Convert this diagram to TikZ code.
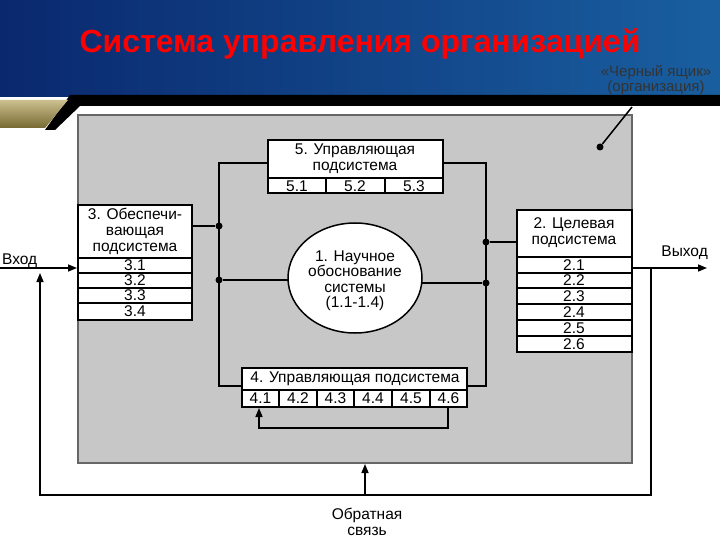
\documentclass[tikz,border=0pt]{standalone}
\usepackage{fontspec}
\setmainfont{Liberation Sans}
\usetikzlibrary{arrows.meta}
\definecolor{bgA}{RGB}{10,40,110}
\definecolor{bgB}{RGB}{25,95,160}
\definecolor{gold}{RGB}{170,150,70}
\begin{document}
\begin{tikzpicture}[x=1pt,y=-1pt,
  txt/.style={font=\fontsize{15.5}{16}\selectfont,align=center,inner sep=0},
  ln/.style={line width=1.5pt},
  arr/.style={ln,-{Triangle[length=9pt,width=7pt]}},
  dot/.style={circle,fill=black,inner sep=0,minimum size=7pt}]
\useasboundingbox (0,0) rectangle (720,540);
\fill[white] (0,0) rectangle (720,540);
\shade[left color=bgA,right color=bgB] (0,0) rectangle (720,97);
\fill[black] (70,95) -- (720,95) -- (720,106) -- (80,106) -- (55,130) -- (45,130) -- cycle;
\shade[top color=gold!60!white,bottom color=gold!70!black] (0,100) -- (68,100) -- (45,128) -- (0,128) -- cycle;
\node[font=\fontsize{32}{34}\selectfont\bfseries,text=red] (title) at (360,44) {Система управления организацией};
\node[font=\fontsize{15}{15.5}\selectfont,text=black!80,align=center] (bb) at (656,80) {«Черный ящик»\\(организация)};
% gray box
\draw[fill=black!22,draw=black!60,line width=1.5pt] (78,115) rectangle (632,463);
\coordinate (bbc) at (632,107);
\node[dot] (bbd) at (600,147) {};
\draw[ln] (bbd) -- (bbc);
% box 5
\draw[fill=white,ln] (268,140) rectangle (443,193);
\draw[ln] (268,178) -- (443,178) (326,178) -- (326,193) (385,178) -- (385,193);
\node[txt] (b5) at (355,159) {5. Управляющая\\подсистема};
\node[txt] at (297,186) {5.1}; \node[txt] at (355,186) {5.2}; \node[txt] at (414,186) {5.3};
% box 3
\draw[fill=white,ln] (78,205) rectangle (192,320);
\foreach \y in {258,273,288,303} \draw[ln] (78,\y) -- (192,\y);
\node[txt] (b3) at (135,231) {3. Обеспечи-\\вающая\\подсистема};
\foreach \i/\y in {1/265.5,2/280.5,3/295.5,4/311.5} \node[txt] at (135,\y) {3.\i};
% box 2
\draw[fill=white,ln] (517,210) rectangle (632,352);
\foreach \y in {257,273,288,304,320,336} \draw[ln] (517,\y) -- (632,\y);
\node[txt] (b2) at (574,233) {2. Целевая\\подсистема};
\foreach \i/\y in {1/265,2/280.5,3/296,4/312,5/328,6/344} \node[txt] at (574,\y) {2.\i};
% box 4
\draw[fill=white,ln] (242,368) rectangle (467,407);
\draw[ln] (242,390) -- (467,390);
\foreach \x in {279,317,354,392,430} \draw[ln] (\x,390) -- (\x,407);
\node[txt] (b4) at (355,379) {4. Управляющая подсистема};
\foreach \i/\x in {1/260.5,2/298,3/335.5,4/373,5/411,6/448.5} \node[txt] at (\x,398.5) {4.\i};
% ellipse
\draw[fill=white,ln] (355,278) ellipse (67 and 55);
\node[txt,font=\fontsize{15.5}{15.5}\selectfont] (e) at (355,281) {1. Научное\\обоснование\\системы\\(1.1-1.4)};
% bus lines
\draw[ln] (268,163) -- (219,163) -- (219,386) -- (242,386);
\draw[ln] (443,163) -- (486,163) -- (486,386) -- (467,386);
\node[dot] (d1) at (219,226) {}; \node[dot] (d2) at (219,280) {};
\node[dot] (d3) at (486,242) {}; \node[dot] (d4) at (486,283) {};
\draw[ln] (192,226) -- (d1); \draw[ln] (d2) -- (288,280);
\draw[ln] (517,242) -- (d3); \draw[ln] (d4) -- (422,283);
% feedback 4.6 -> 4.1
\draw[arr] (448,407) -- (448,428) -- (259,428) -- (259,408);
% input/output
\node[txt,anchor=west] (in) at (2,261) {Вход};
\node[txt,anchor=east] (out) at (708,253) {Выход};
\draw[arr] (0,268) -- (77,268);
\draw[arr] (632,268) -- (707,268);
\draw[arr] (651,268) -- (651,495) -- (40,495) -- (40,273);
\draw[arr] (365,495) -- (365,464);
\node[txt] (fb) at (367,522) {Обратная\\связь};
\end{tikzpicture}
\end{document}
